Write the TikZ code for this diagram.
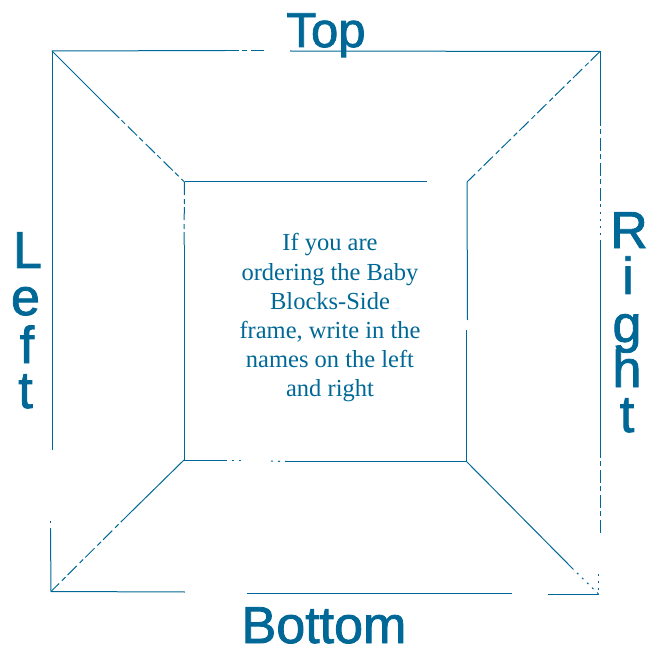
\documentclass[tikz,border=0pt]{standalone}
\usepackage{fontspec}
\setmainfont{Liberation Serif}
\setsansfont[FakeBold=1.6]{Liberation Sans}
\definecolor{ink}{RGB}{0,104,150}
\begin{document}
\begin{tikzpicture}[x=1pt,y=-1pt,
  frameline/.style={draw=ink,line width=1pt},
  broken/.style={frameline,dash pattern=on 13pt off 3pt on 5pt off 4pt},
  speck/.style={frameline,dash pattern=on 2pt off 5pt},
  side/.style={text=ink,font=\sffamily\fontsize{52}{52}\selectfont,inner sep=0pt,anchor=base},
  body/.style={text=ink,font=\rmfamily\fontsize{24.5}{29.2}\selectfont,align=center,inner sep=0pt}]
\useasboundingbox (0,0) rectangle (654,650);
% corners
\coordinate (ol) at (52,51);\coordinate (or) at (600,51.5);
\coordinate (ur) at (598.5,594);\coordinate (ul) at (51,591.5);
\coordinate (il) at (184.5,182);\coordinate (ir) at (467,182);
\coordinate (jr) at (466.5,461.5);\coordinate (jl) at (184,460);
% outer frame
\draw[frameline] (ol)--(226,50.5);
\draw[broken] (226,50.5)--(266,50.5);
\draw[frameline] (290,51)--(or);
\draw[frameline] (or)--(600,113);
\draw[broken] (600,113)--(600,205);
\draw[speck] (600,205)--(600,240);
\draw[frameline] (600,240)--(600,445);
\draw[broken] (600,445)--(600,535);
\draw[speck] (598.5,574)--(598.5,590);
\draw[frameline] (ur)--(548,594);
\draw[frameline] (512,593.5)--(247,593.5);
\draw[frameline] (185,592)--(ul);
\draw[frameline] (ul)--(50.5,530);
\draw[speck] (50.5,530)--(50.5,517);
\draw[frameline] (52,450)--(ol);
% inner frame
\draw[frameline] (il)--(427,182);
\draw[frameline] (ir)--(467.5,320);
\draw[frameline] (466.5,330)--(jr);
\draw[frameline] (jr)--(287,461.5);
\draw[speck] (287,461.5)--(270,461);
\draw[frameline] (jl)--(225,460);
\draw[speck] (225,460)--(245,460);
\draw[frameline] (jl)--(184,245);
\draw[broken] (184,245)--(il);
% diagonals
\draw[frameline] (ol)--(110,109);
\draw[broken] (110,109)--(il);
\draw[broken] (or)--(ir);
\draw[frameline] (jr)--(572,568);
\draw[speck] (572,568)--(ur);
\draw[frameline] (jl)--(130,513);
\draw[broken] (130,513)--(ul);
% labels
\node[side,font=\sffamily\fontsize{49}{49}\selectfont] (t) at (326,47) {Top};
\node[side] (b) at (324,643) {Bottom};
\node[side] (l1) at (27.5,268) {L};
\node[side] (l2) at (25.5,315) {e};
\node[side] (l3) at (27,363) {f};
\node[side] (l4) at (25.5,408) {t};
\node[side] (r1) at (629,248) {R};
\node[side] (r2) at (628,294) {i};
\node[side] (r3) at (627,342) {g};
\node[side] (r4) at (627,387) {h};
\node[side] (r5) at (627,432) {t};
\node[body] (m) at (330,318) {If you are\\ordering the Baby\\Blocks-Side\\frame, write in the\\names on the left\\and right};
\end{tikzpicture}
\end{document}
